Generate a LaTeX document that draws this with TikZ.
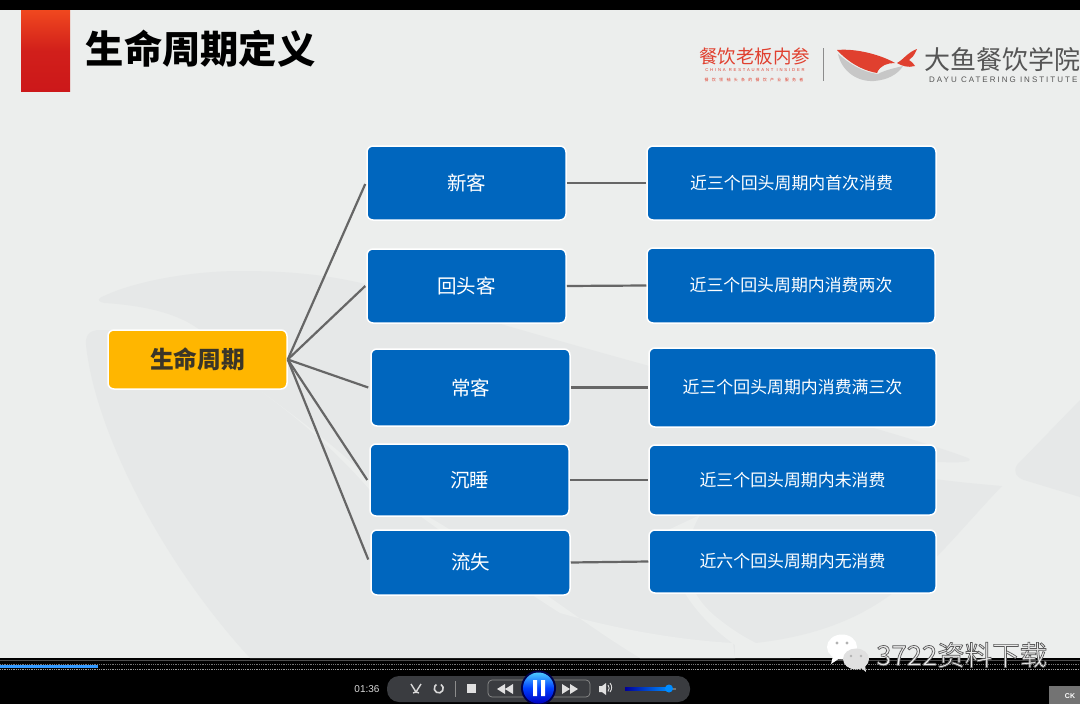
\documentclass[tikz,border=0pt]{standalone}
\usepackage{fontspec}
\setmainfont{Noto Sans CJK SC}
\newfontfamily\latinf{Liberation Sans}
\usetikzlibrary{calc}
\definecolor{slidebg}{HTML}{ECEEED}
\definecolor{wm}{HTML}{E6E8E8}
\definecolor{boxblue}{HTML}{0066BE}
\definecolor{rootgold}{HTML}{FFB600}
\definecolor{roottext}{HTML}{3A3528}
\definecolor{linkgrey}{HTML}{666666}
\definecolor{logored}{HTML}{E0402F}
\definecolor{logogrey}{HTML}{555555}
\definecolor{ctl}{HTML}{3A3C40}
\definecolor{titleA}{HTML}{F0481F}
\definecolor{titleB}{HTML}{CC181A}
\tikzset{
  x=1pt,y=-1pt,
  bluebox/.style={draw=white,line width=1.5pt,rounded corners=6pt,fill=boxblue,text=white,font=\fontsize{19.5}{21}\selectfont,inner sep=0pt},
  descbox/.style={bluebox,font=\fontsize{16.9}{19}\selectfont},
  rootbox/.style={draw=white,line width=1.5pt,rounded corners=6pt,fill=rootgold,text=roottext,font=\fontsize{23.75}{25}\selectfont\bfseries,inner sep=0pt},
  link/.style={draw=linkgrey,line width=2.2pt},
  ctlbtn/.style={fill=white!88!black},
}
\newcommand{\boxat}[7]{% name x0 y0 x1 y1 style text
  \node[#6,minimum width=#4pt-#2pt,minimum height=#5pt-#3pt,anchor=center] (#1) at ({(#2+#4)/2},{(#3+#5)/2}) {#7};}
\begin{document}
\begin{tikzpicture}
\useasboundingbox (0,0) rectangle (1080,704);
\fill[black] (0,0) rectangle (1080,704);
\fill[slidebg] (0,10) rectangle (1080,658);
% watermark
\fill[wm] (100,298) .. controls (130,282) and (190,271) .. (240,271) .. controls (300,271) and (350,276) .. (420,300)
  .. controls (650,370) and (880,425) .. (968,458) .. controls (975,462) and (960,463) .. (940,462)
  .. controls (850,470) and (930,480) .. (1002,486) .. controls (960,530) and (930,570) .. (893,593)
  .. controls (850,625) and (800,640) .. (735,645) -- (735,658) -- (250,658)
  .. controls (160,560) and (95,430) .. (86,345) .. controls (85,335) and (90,330) .. (100,330)
  -- (200,330) .. controls (180,315) and (150,306) .. (105,303) .. controls (98,302) and (98,299) .. cycle;
\fill[wm] (1080,400) -- (1017,465) .. controls (1013,472) and (1016,477) .. (1024,480) -- (1080,497) -- cycle;
% lighter bands over the watermark
\fill[slidebg] (262,392) .. controls (300,420) and (340,450) .. (370,480) .. controls (440,530) and (500,575) .. (560,613)
  .. controls (620,630) and (680,640) .. (733,643) -- (735,658) -- (640,658) .. controls (560,610) and (440,510) .. (370,490) .. controls (335,450) and (300,420) .. cycle;
\fill[slidebg] (700,515) .. controls (680,550) and (680,590) .. (720,620) .. controls (745,640) and (770,650) .. (790,658) -- (735,658) -- (735,645) .. controls (700,620) and (665,580) .. (668,530) -- cycle;
% title
\shade[top color=titleA,bottom color=titleB,middle color=titleB!85!titleA] (21,10) rectangle (70,91);
\node[font=\fontsize{38.3}{40}\selectfont\bfseries,text=black,anchor=west,inner sep=0pt] (title) at (85.5,49) {生命周期定义};
% logo left
\node[font=\fontsize{18.5}{20}\selectfont,text=logored,inner sep=0pt] (lg1) at (754.5,56) {餐饮老板内参};
\node[font=\latinf\fontsize{4.2}{5}\selectfont,text=logored,inner sep=0pt] (lg2) at (755,70) {\addfontfeature{LetterSpace=44}CHINA RESTAURANT INSIDER};
\node[font=\fontsize{4}{5}\selectfont,text=logored,inner sep=0pt] (lg3) at (754,80) {\addfontfeature{LetterSpace=82}餐饮领袖头条的餐饮产业服务者};
\draw[black!45,line width=.9pt] (823,48) -- (823,81);
% whale
\fill[black!22] (838,54) .. controls (842,72) and (858,82) .. (874,81) .. controls (888,80) and (898,74) .. (903,66) .. controls (895,68) and (885,70) .. (878,74) .. controls (862,72) and (850,64) .. cycle;
\fill[logored] (837,50) .. controls (860,48) and (885,57) .. (895,63) .. controls (888,63) and (880,65) .. (877,73) .. controls (860,70) and (846,60) .. cycle;
\fill[logored] (897,63) .. controls (903,60) and (908,52) .. (917,49) .. controls (914,56) and (912,58) .. (909,60) .. controls (912,62) and (914,64) .. (915,66) .. controls (908,68) and (902,66) .. (897,63) -- cycle;
\node[font=\fontsize{26}{28}\selectfont,text=logogrey,anchor=west,inner sep=0pt] (lg4) at (924,60) {大鱼餐饮学院};
\node[font=\latinf\fontsize{8}{9}\selectfont,text=logogrey,anchor=west,inner sep=0pt] (lg5) at (929,80) {\addfontfeature{LetterSpace=25}DAYU CATERING INSTITUTE};
% nodes
\boxat{root}{108}{330}{287}{389}{rootbox}{生命周期}
\boxat{a1}{367}{146}{566}{220}{bluebox}{新客}
\boxat{a2}{367}{249}{566}{323}{bluebox}{回头客}
\boxat{a3}{371}{349}{570}{426}{bluebox}{常客}
\boxat{a4}{370}{444}{569}{516}{bluebox}{沉睡}
\boxat{a5}{371}{530}{570}{595}{bluebox}{流失}
\boxat{b1}{647}{146}{936}{220}{descbox}{近三个回头周期内首次消费}
\boxat{b2}{647}{248}{935}{323}{descbox}{近三个回头周期内消费两次}
\boxat{b3}{649}{348}{936}{427}{descbox}{近三个回头周期内消费满三次}
\boxat{b4}{649}{445}{936}{515}{descbox}{近三个回头周期内未消费}
\boxat{b5}{649}{530}{936}{593}{descbox}{近六个回头周期内无消费}
% connectors
\draw[link] (root.east) -- ($(a1.west)+(-1,1)$);
\draw[link] (root.east) -- ($(a2.west)+(-1,0)$);
\draw[link] (root.east) -- ($(a3.west)+(-2,0)$);
\draw[link] (root.east) -- ($(a4.west)+(-2,0)$);
\draw[link] (root.east) -- ($(a5.west)+(-2,-3)$);
\draw[link] (a1.east) -- (b1.west);
\draw[link] (a2.east) -- (b2.west);
\draw[link] (a3.east) -- (b3.west);
\draw[link] (a4.east) -- (b4.west);
\draw[link] (a5.east) -- (b5.west);
% player chrome
\draw[black!70,line width=1pt] (0,660.5) -- (1080,660.5);
\draw[white!60!black,line width=.8pt,densely dotted] (0,669) -- (1080,669);
\draw[white!45!black,line width=.8pt,densely dotted] (0,664) -- (1080,664);
\fill[blue!50!cyan!80!white] (0,665) rectangle (98,668);
\fill[ctl,rounded corners=12pt] (387,676) rectangle (690,702);
\node[font=\latinf\fontsize{10}{10}\selectfont,text=white!85!black,inner sep=0pt] (time) at (367,689) {01:36};
\draw[white!85!black,line width=1.4pt] (411,684) -- (416,692) -- (421,684) (413,693) -- (416,692) -- (419,693);
\draw[white!85!black,line width=1.6pt] (441,684.5) arc (-60:240:4.5);
\draw[black!45,line width=.6pt] (455,681) -- (455,697);
\fill[ctlbtn] (467,684) rectangle (476,693);
\draw[black!45,rounded corners=4pt,line width=.7pt] (488,680) rectangle (590,697);
\fill[ctlbtn] (497,689) -- (505,684) -- (505,694) -- cycle (505,689) -- (513,684) -- (513,694) -- cycle;
\fill[ctlbtn] (578,689) -- (570,684) -- (570,694) -- cycle (570,689) -- (562,684) -- (562,694) -- cycle;
\fill[black!70!blue] (538.5,688) circle (17.5);
\shade[top color=blue!30!cyan!70!white,bottom color=blue!75!black,middle color=blue!75!cyan] (538.5,688) circle (15.5);
\fill[white] (533,680) rectangle (537,696) (541,680) rectangle (545,696);
\fill[ctlbtn] (599,686) -- (602,686) -- (606,683) -- (606,695) -- (602,692) -- (599,692) -- cycle;
\draw[white!88!black,line width=.9pt] (608,685) arc (-40:40:5);
\draw[white!88!black,line width=.9pt] (610,683) arc (-40:40:7);
\shade[left color=blue!60!black,right color=blue!45!cyan] (625,687.5) rectangle (669,690);
\fill[black!55] (669,687.5) rectangle (676,690);
\fill[blue!45!cyan] (669,688.5) circle (4);
\fill[black!55] (1049,686) rectangle (1080,704);
\node[font=\latinf\fontsize{7}{8}\selectfont\bfseries,text=white,inner sep=0pt] (ck) at (1070,696) {CK};
% watermark label
\fill[white] (842,647) ellipse (15 and 12.5);
\fill[white] (833,656) -- (831,664) -- (840,658) -- cycle;
\fill[white!88!black] (856,659) ellipse (13 and 10.5);
\fill[white!88!black] (860,667) -- (866,672) -- (865,665) -- cycle;
\fill[black!30] (837,643) circle (1.6) (847,643) circle (1.6) (851,656) circle (1.3) (861,656) circle (1.3);
\node[font=\fontsize{27.5}{29}\selectfont,text=white!92!black,anchor=west,inner sep=0pt] (wx) at (876,655) {\special{pdf:code q 2 Tr 0.7 w 0.35 G}3722资料下载\special{pdf:code 0 Tr Q}};
\end{tikzpicture}
\end{document}
